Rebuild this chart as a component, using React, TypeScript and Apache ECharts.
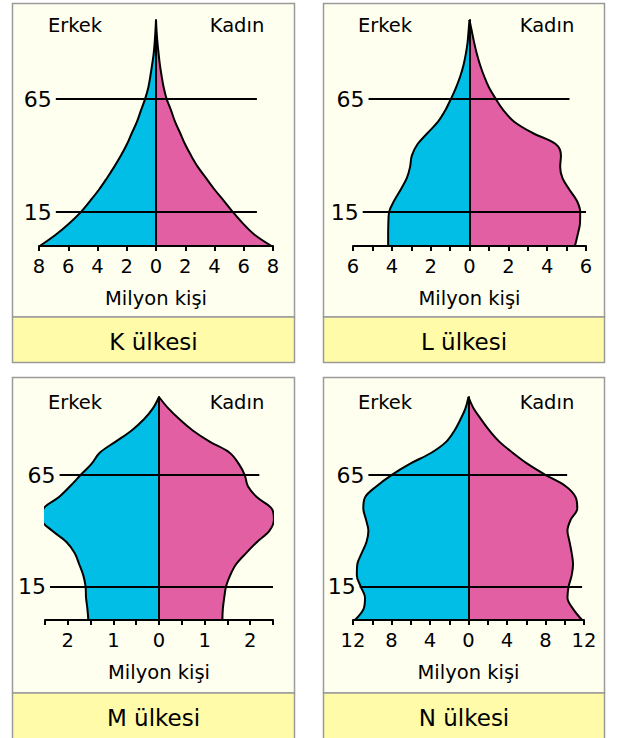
import React, { useEffect, useRef } from "react";
import * as echarts from "echarts";

// ---------- data ----------
const ageGroups = ["0","5","10","15","20","25","30","35","40","45","50","55","60","65","70","75","80","85","90","95","100"];
const sexLabels = ["Erkek", "Kadın"];
const axisName = "Milyon kişi";
const countryNames = ["K ülkesi", "L ülkesi", "M ülkesi", "N ülkesi"];
const markedAges = ["65", "15"];

const kMale = [7.95, 6.86, 5.94, 5.14, 4.5, 3.89, 3.36, 2.86, 2.4, 1.99, 1.65, 1.3, 1.03, 0.75, 0.53, 0.39, 0.27, 0.16, 0.09, 0.04, 0];
const kFemale = [7.9, 6.74, 5.94, 5.26, 4.64, 4.0, 3.43, 2.86, 2.4, 1.99, 1.65, 1.3, 1.03, 0.73, 0.53, 0.39, 0.27, 0.18, 0.1, 0.04, 0];

const lMale = [4.19, 4.19, 4.18, 4.14, 3.88, 3.54, 3.23, 3.06, 2.97, 2.68, 2.16, 1.62, 1.25, 0.96, 0.7, 0.48, 0.31, 0.19, 0.1, 0.05, 0];
const lFemale = [5.43, 5.57, 5.69, 5.7, 5.53, 5.14, 4.79, 4.67, 4.71, 4.45, 3.25, 2.3, 1.75, 1.36, 1.01, 0.76, 0.55, 0.38, 0.24, 0.12, 0];

const mMale = [1.55, 1.57, 1.6, 1.61, 1.66, 1.75, 1.85, 2.03, 2.34, 2.57, 2.53, 2.2, 1.95, 1.72, 1.48, 1.3, 0.95, 0.6, 0.33, 0.13, 0];
const mFemale = [1.39, 1.4, 1.43, 1.47, 1.56, 1.69, 1.91, 2.15, 2.42, 2.52, 2.47, 2.15, 1.95, 1.88, 1.75, 1.55, 1.11, 0.74, 0.45, 0.2, 0];

const nMale = [11.8, 10.9, 10.75, 11.2, 11.6, 11.55, 11.1, 10.6, 10.4, 10.65, 10.93, 10.75, 9.55, 8.0, 6.1, 3.86, 2.3, 1.45, 0.83, 0.31, 0];
const nFemale = [11.8, 10.86, 10.28, 10.4, 10.72, 10.86, 10.72, 10.5, 10.28, 10.62, 11.3, 11.14, 10.1, 8.03, 6.14, 4.59, 3.2, 2.17, 1.31, 0.52, 0];

const maleData = [kMale, lMale, mMale, nMale];
const femaleData = [kFemale, lFemale, mFemale, nFemale];

// axis scale per panel: max, tick interval, label step
const axisMax = [8, 6, 2.5, 12];
const axisInterval = [2, 1, 0.5, 2];
const axisLabelStep = [2, 2, 1, 4];

// ---------- layout ----------
const FONT = "DejaVu Sans";
const BLUE = "#00BEE5";
const PINK = "#E35FA3";
const PLOT_BG = "#FFFFF0";
const TITLE_BG = "#FFFBA8";
const BORDER = "#9A9A9A";

const panels = [
  { box: [12.5, 3.5, 282, 313.5, 45.5], grid: [39, 20, 234, 226], center: 154, top: true,
    lineExt: [[-6.85, 6.9], [-6.85, 6.9]] },
  { box: [323.5, 3.5, 281, 313.5, 45.5], grid: [353, 20, 233, 226], center: 464, top: true,
    lineExt: [[-5.2, 5.15], [-5.5, 6]] },
  { box: [12.5, 377.5, 282, 315.5, 60], grid: [45, 397, 228, 223], center: 154, top: false,
    lineExt: [[-2.18, 2.2], [-2.39, 2.5]] },
  { box: [323.5, 377.5, 281, 315.5, 60], grid: [353, 397, 231, 223], center: 464, top: false,
    lineExt: [[-10.4, 10.25], [-11.3, 11.8]] },
];

function buildOption() {
  const grid: any[] = [];
  const xAxis: any[] = [];
  const yAxis: any[] = [];
  const series: any[] = [];
  const graphic: any[] = [];

  panels.forEach((p, i) => {
    const [bx, by, bw, bh, th] = p.box;
    graphic.push({ type: "rect", z: 0, shape: { x: bx, y: by, width: bw, height: bh },
      style: { fill: PLOT_BG, stroke: BORDER, lineWidth: 1.5 } });
    graphic.push({ type: "rect", z: 0, shape: { x: bx, y: by + bh, width: bw, height: th },
      style: { fill: TITLE_BG, stroke: BORDER, lineWidth: 1.5 } });
    const textY = p.top ? 25 : 402;
    const titleY = p.top ? 341.5 : 718;
    graphic.push({ type: "text", z: 1, x: p.center - 79, y: textY,
      style: { text: sexLabels[0], fontSize: 19.5, fontFamily: FONT, fill: "#000", align: "center", verticalAlign: "middle" } });
    graphic.push({ type: "text", z: 1, x: p.center + 83, y: textY,
      style: { text: sexLabels[1], fontSize: 19.5, fontFamily: FONT, fill: "#000", align: "center", verticalAlign: "middle" } });
    graphic.push({ type: "text", z: 1, x: bx + bw / 2, y: titleY,
      style: { text: countryNames[i], fontSize: 23, fontFamily: FONT, fill: "#000", align: "center", verticalAlign: "middle" } });

    const [gl, gt, gw, gh] = p.grid;
    grid.push({ left: gl, top: gt, width: gw, height: gh, containLabel: false });

    const step = axisLabelStep[i];
    xAxis.push({
      type: "value", gridIndex: i, min: -axisMax[i], max: axisMax[i], interval: axisInterval[i], z: 5,
      axisLine: { show: true, onZero: false, lineStyle: { color: "#000", width: 2 } },
      axisTick: { show: true, length: 5, lineStyle: { color: "#000", width: 2 } },
      splitLine: { show: false },
      axisLabel: {
        margin: 10, fontSize: 19.5, fontFamily: FONT, color: "#000",
        formatter: (v: number) => {
          const a = Math.abs(v);
          const r = a / step;
          return Math.abs(r - Math.round(r)) < 1e-6 ? String(Math.round(a * 100) / 100) : "";
        },
      },
      name: axisName, nameLocation: "middle", nameGap: 42,
      nameTextStyle: { fontSize: 19.5, fontFamily: FONT, color: "#000" },
    });
    yAxis.push({
      type: "category", gridIndex: i, data: ageGroups, boundaryGap: false, z: 5,
      axisLine: { show: true, onZero: true, lineStyle: { color: "#000", width: 2 } },
      axisTick: { show: false }, axisLabel: { show: false }, splitLine: { show: false },
    });

    series.push({
      type: "line", xAxisIndex: i, yAxisIndex: i, smooth: 0.35, symbol: "none", z: 2,
      data: maleData[i].map((v) => -v),
      lineStyle: { color: "#000", width: 2 },
      areaStyle: { color: BLUE, opacity: 1 },
    });
    series.push({
      type: "line", xAxisIndex: i, yAxisIndex: i, smooth: 0.35, symbol: "none", z: 2,
      data: femaleData[i],
      lineStyle: { color: "#000", width: 2 },
      areaStyle: { color: PINK, opacity: 1 },
    });
    series.push({
      type: "line", xAxisIndex: i, yAxisIndex: i, data: [], z: 4, symbol: "none",
      markLine: {
        silent: true, symbol: "none", animation: false,
        lineStyle: { color: "#000", width: 2, type: "solid" },
        label: { show: true, position: "start", formatter: "{b}", fontSize: 22, fontFamily: FONT, color: "#000", distance: 4 },
        data: markedAges.map((age, k) => [
          { name: age, coord: [p.lineExt[k][0], ageGroups.indexOf(age)] },
          { coord: [p.lineExt[k][1], ageGroups.indexOf(age)] },
        ]),
      },
    });
  });

  return { animation: false, backgroundColor: "#fff", grid, xAxis, yAxis, series, graphic };
}

export default function App() {
  const ref = useRef<HTMLDivElement>(null);
  useEffect(() => {
    if (!ref.current) return;
    const chart = echarts.init(ref.current, undefined, { renderer: "svg" });
    chart.setOption(buildOption() as any);
    return () => chart.dispose();
  }, []);
  return (
    <div
      ref={ref}
      style={{ position: "absolute", left: 0, top: 0, width: 619, height: 738 }}
    />
  );
}
